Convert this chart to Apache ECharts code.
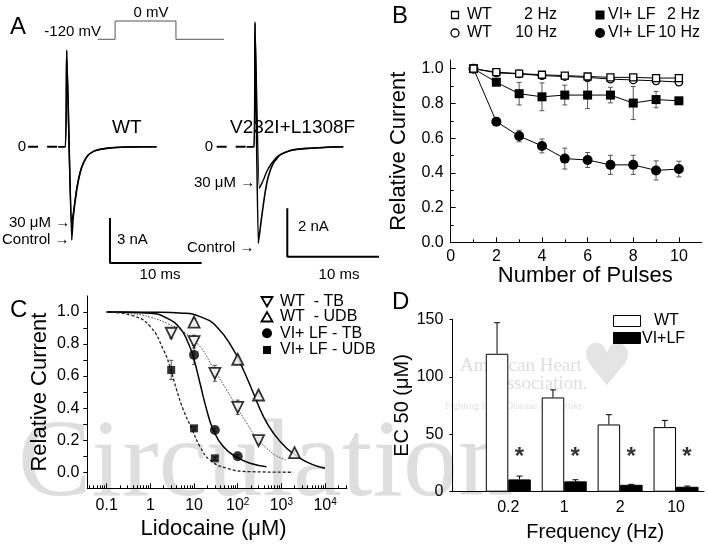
<!DOCTYPE html>
<html><head><meta charset="utf-8">
<script src="https://cdn.jsdelivr.net/npm/echarts@6/dist/echarts.min.js"></script>
<style>html,body{margin:0;padding:0;background:#fff}#c{width:708px;height:549px}</style>
</head><body><div id="c"></div>
<script>
const FONT = "'Liberation Sans', Arial, Helvetica, sans-serif";
const SERIF = "'Liberation Serif', 'Times New Roman', serif";
const zip = (a, b) => a.map((v, k) => [v, b[k]]);
const L10 = Math.log10;

// ---------------- Panel A (ms, nA / mV) ----------------
const protoTime = [0, 1.9, 1.9, 8.55, 8.55, 13.8];
const protoVolt = [-120, -120, 0, 0, -120, -120];
const wtCtrlTime = [-0.92, -0.15, 0, 0.55, 0.72, 1.09, 1.45, 1.81, 2.36, 3.09, 4.36, 6.54, 9.81];
const wtCtrlCur  = [0, 0, 6.45, -6.22, -4.67, -2.89, -1.78, -1.11, -0.55, -0.27, -0.11, -0.02, 0];
const wt30Time = [-0.92, -0.15, 0, 0.51, 0.72, 1.09, 1.45, 1.81, 2.36, 3.09, 4.36, 6.54, 9.81];
const wt30Cur  = [0, 0, 6.3, -5.09, -4.45, -2.8, -1.74, -1.09, -0.54, -0.26, -0.1, -0.02, 0];
const mutCtrlTime = [-0.9, -0.1, 0, 0.36, 0.73, 1.09, 1.45, 2.0, 2.73, 3.82, 5.63, 8.54, 9.63];
const mutCtrlCur  = [0, 0, 5.14, -3.98, -2.88, -1.92, -1.23, -0.68, -0.34, -0.16, -0.07, -0.01, 0];
const mut30Time = [-0.9, -0.1, 0, 0.47, 0.91, 1.27, 1.82, 2.54, 3.45, 4.91, 8.54, 9.63];
const mut30Cur  = [0, 0, 5.05, -1.71, -1.37, -1.03, -0.68, -0.38, -0.21, -0.09, -0.01, 0];
const scaleBarWT = { ms: 10, nA: 3 };
const scaleBarMut = { ms: 10, nA: 2 };
const wtBarAnchor = [4.72, -7.75];
const mutBarAnchor = [3.52, -4.53];
const wtZeroDash = [-4.21, -0.95];
const mutZeroDash = [-4.18, -0.9];

// ---------------- Panel B ----------------
const pulses = [1, 2, 3, 4, 5, 6, 7, 8, 9, 10];
const bWt2Hz  = [1.0, 0.98, 0.972, 0.965, 0.96, 0.955, 0.95, 0.95, 0.946, 0.946];
const bWt10Hz = [1.0, 0.976, 0.97, 0.96, 0.955, 0.95, 0.94, 0.935, 0.93, 0.923];
const bVl2Hz  = [1.0, 0.922, 0.856, 0.838, 0.848, 0.848, 0.848, 0.802, 0.822, 0.815];
const bVl2HzErr = [0, 0.01, 0.065, 0.08, 0.057, 0.078, 0.045, 0.095, 0.047, 0.01];
const bVl10Hz = [1.0, 0.695, 0.612, 0.555, 0.482, 0.474, 0.446, 0.446, 0.414, 0.422];
const bVl10HzErr = [0, 0.022, 0.033, 0.04, 0.06, 0.043, 0.055, 0.055, 0.055, 0.045];

// ---------------- Panel C ----------------
const cWtTbConc = [3, 10, 30, 100, 300];
const cWtTbVal  = [0.867, 0.815, 0.617, 0.405, 0.197];
const cWtTbErr  = [0.03, 0.04, 0.05, 0.045, 0.02];
const cWtUdbConc = [10, 100, 300, 2000];
const cWtUdbVal  = [0.937, 0.705, 0.482, 0.122];
const cWtUdbErr  = [0.02, 0.01, 0.01, 0.01];
const cVlTbConc = [10, 30, 100];
const cVlTbVal  = [0.732, 0.264, 0.1];
const cVlTbErr  = [0.06, 0.01, 0.01];
const cVlUdbConc = [3, 10, 30];
const cVlUdbVal  = [0.638, 0.274, 0.087];
const cVlUdbErr  = [0.06, 0.01, 0.01];
const fitWtTbConc = [0.1, 0.41, 1, 2.4, 5.7, 13.7, 27.6, 56, 95, 161, 273, 457, 776, 1260];
const fitWtTbVal  = [1.0, 0.988, 0.967, 0.929, 0.877, 0.784, 0.649, 0.513, 0.409, 0.306, 0.212, 0.15, 0.102, 0.078];
const fitWtUdbConc = [0.1, 1, 5.7, 13.7, 33, 80, 135, 229, 389, 661, 1320, 2690, 5400, 10000];
const fitWtUdbVal  = [1.0, 0.998, 0.992, 0.971, 0.908, 0.763, 0.638, 0.493, 0.347, 0.243, 0.15, 0.087, 0.046, 0.025];
const fitVlTbConc = [0.1, 1, 2.4, 4.8, 7.4, 9.6, 13.7, 19.5, 27.6, 46.7, 95, 191, 457];
const fitVlTbVal  = [1.0, 0.992, 0.961, 0.898, 0.805, 0.721, 0.555, 0.389, 0.264, 0.16, 0.094, 0.056, 0.035];
const fitVlUdbConc = [0.1, 0.41, 1, 2, 2.8, 4, 5.7, 8.8, 13.7, 23, 56, 190, 1860];
const fitVlUdbVal  = [1.0, 0.975, 0.908, 0.763, 0.659, 0.513, 0.389, 0.274, 0.16, 0.077, 0.025, 0.004, 0.0];
const cDecades = [-1, 0, 1, 2, 3, 4];
const cDecadeLabels = ['0.1', '1', '10', '10{s|2}', '10{s|3}', '10{s|4}'];

// ---------------- Panel D ----------------
const freqLabels = ['0.2', '1', '2', '10'];
const dWt = [120, 82, 58.5, 56.2];
const dWtErr = [27, 6.6, 8.5, 5.8];
const dVl = [10.7, 9.0, 6.0, 4.3];
const dVlErr = [2.9, 1.4, 0.4, 0.6];
const sigMarkY = 30;

// ---------- helpers ----------
function errSeries(xi, yi, xs, vals, errs, o) {
  const data = xs.map((x, k) => [x, o.topOnly ? vals[k] : vals[k] - errs[k], vals[k] + errs[k]]);
  return {
    type: 'custom', xAxisIndex: xi, yAxisIndex: yi, z: 1, silent: true, data,
    encode: { x: 0, y: [1, 2] },
    renderItem(params, api) {
      const x = api.value(0), lo = api.value(1), hi = api.value(2);
      const p1 = api.coord([x, hi]), p2 = api.coord([x, lo]);
      const dx = o.dx || 0, w = o.cap;
      const st = { stroke: o.color || '#333', lineWidth: o.lw || 1 };
      const ch = [
        { type: 'line', shape: { x1: p1[0] + dx, y1: p1[1], x2: p2[0] + dx, y2: p2[1] }, style: st },
        { type: 'line', shape: { x1: p1[0] + dx - w, y1: p1[1], x2: p1[0] + dx + w, y2: p1[1] }, style: st }
      ];
      if (!o.topOnly) ch.push({ type: 'line', shape: { x1: p2[0] + dx - w, y1: p2[1], x2: p2[0] + dx + w, y2: p2[1] }, style: st });
      return { type: 'group', children: ch };
    }
  };
}
const blk = { color: '#000' };
const lbl = (extra) => Object.assign({ fontSize: 16, color: '#000', fontFamily: FONT }, extra || {});
const nameStyle = (size, extra) => Object.assign({ fontSize: size, color: '#000', fontFamily: FONT }, extra || {});
const hiddenAxis = (g, min, max) => ({ gridIndex: g, type: 'value', min, max, show: false });

// minor tick positions for log axis
const cMinor = [];
for (let d = -2; d <= 4; d++) for (let k = 2; k <= 9; k++) {
  const v = d + L10(k);
  if (v > -1.444 && v < 4.5) cMinor.push(v);
}

const option = {
  animation: false,
  backgroundColor: '#fff',
  textStyle: { fontFamily: FONT },
  grid: [
    { left: 97.7, top: 21, width: 126.3, height: 18.3 },      // A protocol
    { left: 0, top: 0, width: 220, height: 280 },            // A WT
    { left: 180, top: 0, width: 220, height: 280 },          // A mutant
    { left: 450.7, top: 60, width: 251, height: 182.3 },     // B
    { left: 87.3, top: 295.9, width: 259.6, height: 192.4 }, // C
    { left: 452.4, top: 319.3, width: 251.6, height: 172.4 } // D
  ],
  xAxis: [
    hiddenAxis(0, 0, 13.8),
    hiddenAxis(1, -7.274, 16.72),
    hiddenAxis(2, -8.179, 15.81),
    { gridIndex: 3, type: 'value', min: 0, max: 11, position: 'bottom',
      axisLine: { onZero: false, lineStyle: blk },
      axisTick: { inside: true, length: 5, customValues: [0, 2, 4, 6, 8, 10], lineStyle: blk },
      axisLabel: lbl({ customValues: [0, 2, 4, 6, 8, 10], margin: 6 }),
      splitLine: { show: false },
      name: 'Number of Pulses', nameLocation: 'middle', nameGap: 20,
      nameTextStyle: nameStyle(22, { padding: [0, 0, 0, 18] }) },
    { gridIndex: 3, type: 'value', min: 0, max: 11, position: 'bottom',
      axisLine: { show: false, onZero: false }, axisLabel: { show: false }, splitLine: { show: false },
      axisTick: { inside: true, length: 3, customValues: [1, 3, 5, 7, 9], lineStyle: blk } },
    { gridIndex: 4, type: 'value', min: -1.444, max: 4.5, position: 'bottom',
      axisLine: { onZero: false, lineStyle: blk },
      axisTick: { inside: true, length: 5, customValues: cDecades, lineStyle: blk },
      axisLabel: lbl({ customValues: cDecades, margin: 9,
        formatter: (v) => cDecadeLabels[cDecades.indexOf(Math.round(v))],
        rich: { s: { fontSize: 10, verticalAlign: 'top', fontFamily: FONT, color: '#000' } } }),
      splitLine: { show: false },
      name: 'Lidocaine (μM)', nameLocation: 'middle', nameGap: 30,
      nameTextStyle: nameStyle(22, { padding: [0, 7, 0, 0] }) },
    { gridIndex: 4, type: 'value', min: -1.444, max: 4.5, position: 'bottom',
      axisLine: { show: false, onZero: false }, axisLabel: { show: false }, splitLine: { show: false },
      axisTick: { inside: true, length: 3, customValues: cMinor, lineStyle: blk } },
    { gridIndex: 5, type: 'value', min: -1, max: 3.5, position: 'bottom',
      axisLine: { onZero: false, lineStyle: blk },
      axisTick: { show: false },
      axisLabel: lbl({ customValues: [0, 1, 2, 3], margin: 8, formatter: (v) => freqLabels[Math.round(v)] }),
      splitLine: { show: false },
      name: 'Frequency (Hz)', nameLocation: 'middle', nameGap: 31,
      nameTextStyle: nameStyle(20, { padding: [0, 0, 0, 34] }) }
  ],
  yAxis: [
    hiddenAxis(0, -120, 0),
    hiddenAxis(1, -8.887, 9.78),
    hiddenAxis(2, -5.486, 6.037),
    { gridIndex: 3, type: 'value', min: 0, max: 1.05, position: 'left',
      axisLine: { show: true, onZero: false, lineStyle: blk },
      axisTick: { show: true, inside: true, length: 5, customValues: [0, 0.2, 0.4, 0.6, 0.8, 1.0], lineStyle: blk },
      axisLabel: lbl({ customValues: [0, 0.2, 0.4, 0.6, 0.8, 1.0], margin: 7, formatter: (v) => v.toFixed(1) }),
      splitLine: { show: false },
      name: 'Relative Current', nameLocation: 'middle', nameGap: 41, nameTextStyle: nameStyle(22) },
    { gridIndex: 3, type: 'value', min: 0, max: 1.05, position: 'left',
      axisLine: { show: false, onZero: false }, axisLabel: { show: false }, splitLine: { show: false },
      axisTick: { show: true, inside: true, length: 3, customValues: [0.1, 0.3, 0.5, 0.7, 0.9], lineStyle: blk } },
    { gridIndex: 4, type: 'value', min: -0.1, max: 1.1, position: 'left',
      axisLine: { show: true, onZero: false, lineStyle: blk },
      axisTick: { show: true, length: 4, customValues: [0, 0.1, 0.2, 0.3, 0.4, 0.5, 0.6, 0.7, 0.8, 0.9, 1.0], lineStyle: blk },
      axisLabel: lbl({ customValues: [0, 0.2, 0.4, 0.6, 0.8, 1.0], margin: 8, formatter: (v) => v.toFixed(1) }),
      splitLine: { show: false },
      name: 'Relative Current', nameLocation: 'middle', nameGap: 36, nameTextStyle: nameStyle(22) },
    { gridIndex: 5, type: 'value', min: 0, max: 150, interval: 50, position: 'left',
      axisLine: { show: true, onZero: false, lineStyle: blk },
      axisTick: { show: true, length: 3, lineStyle: blk },
      axisLabel: lbl({ margin: 9 }),
      splitLine: { show: false },
      name: 'EC 50 (μM)', nameLocation: 'middle', nameGap: 27, nameTextStyle: nameStyle(20) }
  ],
  series: [
    // ----- A -----
    { type: 'line', xAxisIndex: 0, yAxisIndex: 0, data: zip(protoTime, protoVolt), symbol: 'none', clip: false,
      lineStyle: { color: '#555', width: 1 } },
    { type: 'line', xAxisIndex: 1, yAxisIndex: 1, data: zip(wtCtrlTime, wtCtrlCur), symbol: 'none', clip: false,
      smooth: 0.15, lineStyle: { color: '#000', width: 1.6 } },
    { type: 'line', xAxisIndex: 1, yAxisIndex: 1, data: zip(wt30Time, wt30Cur), symbol: 'none', clip: false,
      smooth: 0.15, lineStyle: { color: '#000', width: 1.4 } },
    { type: 'line', xAxisIndex: 1, yAxisIndex: 1, data: [[wtZeroDash[0], 0], [wtZeroDash[1], 0]], symbol: 'none', clip: false,
      lineStyle: { color: '#000', width: 2, type: [10, 9] } },
    { type: 'line', xAxisIndex: 1, yAxisIndex: 1, symbol: 'none', clip: false, lineStyle: { color: '#000', width: 2 },
      data: [[wtBarAnchor[0], wtBarAnchor[1] + scaleBarWT.nA], wtBarAnchor, [wtBarAnchor[0] + scaleBarWT.ms, wtBarAnchor[1]]] },
    { type: 'line', xAxisIndex: 2, yAxisIndex: 2, data: zip(mutCtrlTime, mutCtrlCur), symbol: 'none', clip: false,
      smooth: 0.15, lineStyle: { color: '#000', width: 1.6 } },
    { type: 'line', xAxisIndex: 2, yAxisIndex: 2, data: zip(mut30Time, mut30Cur), symbol: 'none', clip: false,
      smooth: 0.15, lineStyle: { color: '#000', width: 1.4 } },
    { type: 'line', xAxisIndex: 2, yAxisIndex: 2, data: [[mutZeroDash[0], 0], [mutZeroDash[1], 0]], symbol: 'none', clip: false,
      lineStyle: { color: '#000', width: 2, type: [10, 9] } },
    { type: 'line', xAxisIndex: 2, yAxisIndex: 2, symbol: 'none', clip: false, lineStyle: { color: '#000', width: 2 },
      data: [[mutBarAnchor[0], mutBarAnchor[1] + scaleBarMut.nA], mutBarAnchor, [mutBarAnchor[0] + scaleBarMut.ms, mutBarAnchor[1]]] },
    // ----- B -----
    errSeries(3, 3, pulses, bVl2Hz, bVl2HzErr, { cap: 2.5, color: '#555' }),
    errSeries(3, 3, pulses, bVl10Hz, bVl10HzErr, { cap: 2.5, color: '#555' }),
    { type: 'line', xAxisIndex: 3, yAxisIndex: 3, data: zip(pulses, bVl10Hz), symbol: 'circle', symbolSize: 10,
      itemStyle: { color: '#000' }, lineStyle: { color: '#000', width: 1 } },
    { type: 'line', xAxisIndex: 3, yAxisIndex: 3, data: zip(pulses, bVl2Hz), symbol: 'rect', symbolSize: 9,
      itemStyle: { color: '#000' }, lineStyle: { color: '#000', width: 1 } },
    { type: 'line', xAxisIndex: 3, yAxisIndex: 3, data: zip(pulses, bWt10Hz), symbol: 'circle', symbolSize: 7.5,
      itemStyle: { color: '#fff', borderColor: '#000', borderWidth: 1.3 }, lineStyle: { color: '#000', width: 1 } },
    { type: 'line', xAxisIndex: 3, yAxisIndex: 3, data: zip(pulses, bWt2Hz), symbol: 'rect', symbolSize: 7,
      itemStyle: { color: '#fff', borderColor: '#000', borderWidth: 1.3 }, lineStyle: { color: '#000', width: 1 } },
    // ----- C -----
    { type: 'line', xAxisIndex: 5, yAxisIndex: 5, data: zip(fitWtUdbConc.map(L10), fitWtUdbVal), symbol: 'none',
      smooth: true, lineStyle: { color: '#000', width: 1.5 } },
    { type: 'line', xAxisIndex: 5, yAxisIndex: 5, data: zip(fitWtTbConc.map(L10), fitWtTbVal), symbol: 'none',
      smooth: true, lineStyle: { color: '#444', width: 1, type: [1.5, 1.5] } },
    { type: 'line', xAxisIndex: 5, yAxisIndex: 5, data: zip(fitVlTbConc.map(L10), fitVlTbVal), symbol: 'none',
      smooth: true, lineStyle: { color: '#000', width: 1.5 } },
    { type: 'line', xAxisIndex: 5, yAxisIndex: 5, data: zip(fitVlUdbConc.map(L10), fitVlUdbVal), symbol: 'none',
      smooth: true, lineStyle: { color: '#222', width: 1.3, type: [3, 2] } },
    errSeries(5, 5, cWtTbConc.map(L10), cWtTbVal, cWtTbErr, { cap: 2, color: '#555' }),
    errSeries(5, 5, cWtUdbConc.map(L10), cWtUdbVal, cWtUdbErr, { cap: 2, color: '#555' }),
    errSeries(5, 5, cVlTbConc.map(L10), cVlTbVal, cVlTbErr, { cap: 2, color: '#555' }),
    errSeries(5, 5, cVlUdbConc.map(L10), cVlUdbVal, cVlUdbErr, { cap: 2, color: '#555' }),
    { type: 'scatter', xAxisIndex: 5, yAxisIndex: 5, data: zip(cWtTbConc.map(L10), cWtTbVal), symbol: 'triangle',
      symbolRotate: 180, symbolSize: 11, itemStyle: { color: '#fff', borderColor: '#000', borderWidth: 1.8 }, z: 3 },
    { type: 'scatter', xAxisIndex: 5, yAxisIndex: 5, data: zip(cWtUdbConc.map(L10), cWtUdbVal), symbol: 'triangle',
      symbolSize: 11, itemStyle: { color: '#fff', borderColor: '#000', borderWidth: 1.8 }, z: 3 },
    { type: 'scatter', xAxisIndex: 5, yAxisIndex: 5, data: zip(cVlTbConc.map(L10), cVlTbVal), symbol: 'circle',
      symbolSize: 10, itemStyle: { color: '#000' }, z: 3 },
    { type: 'scatter', xAxisIndex: 5, yAxisIndex: 5, data: zip(cVlUdbConc.map(L10), cVlUdbVal), symbol: 'rect',
      symbolSize: 8, itemStyle: { color: '#000' }, z: 3 },
    // ----- D -----
    { type: 'bar', xAxisIndex: 7, yAxisIndex: 6, data: dWt.map((v, k) => [k, v]), barWidth: 22.5, barGap: '0%',
      itemStyle: { color: '#fff', borderColor: '#000', borderWidth: 1 } },
    { type: 'bar', xAxisIndex: 7, yAxisIndex: 6, data: dVl.map((v, k) => [k, v]), barWidth: 22.5, barGap: '0%',
      itemStyle: { color: '#000', borderColor: '#000', borderWidth: 1 } },
    errSeries(7, 6, [0, 1, 2, 3], dWt, dWtErr, { cap: 3, color: '#000', dx: -11.25, topOnly: true }),
    errSeries(7, 6, [0, 1, 2, 3], dVl, dVlErr, { cap: 3, color: '#000', dx: 11.25, topOnly: true }),
    { type: 'scatter', xAxisIndex: 7, yAxisIndex: 6, data: dVl.map((v, k) => [k, sigMarkY]), symbolSize: 0,
      label: { show: true, position: 'inside', formatter: '*', offset: [11, 0], fontSize: 24, fontWeight: 'bold', color: '#000', fontFamily: FONT } }
  ],
  graphic: []
};

// ---------- text & legend graphics ----------
const G = option.graphic;
const T = (text, x, y, size, align, extra) => G.push({ type: 'text', x, y, z: 100, silent: true,
  style: Object.assign({ text, fontSize: size, fontFamily: FONT, fill: '#000', align: align || 'left', textAlign: align || 'left',
    verticalAlign: 'middle', textVerticalAlign: 'middle' }, extra || {}) });

// watermarks (behind)
G.push({ type: 'text', x: 18, y: 466, z: -5, silent: true, style: { text: 'Circulation', fontSize: 110, fontFamily: SERIF, fill: '#dedede', verticalAlign: 'middle', textVerticalAlign: 'middle' } });
G.push({ type: 'text', x: 460, y: 366, z: -5, silent: true, style: { text: 'American Heart', fontSize: 19, fontFamily: SERIF, fill: '#dddddd', verticalAlign: 'middle', textVerticalAlign: 'middle' } });
G.push({ type: 'text', x: 493, y: 384, z: -5, silent: true, style: { text: 'Association.', fontSize: 19, fontFamily: SERIF, fill: '#dddddd', verticalAlign: 'middle', textVerticalAlign: 'middle' } });
G.push({ type: 'text', x: 445, y: 406, z: -5, silent: true, style: { text: 'Fighting Heart Disease and Stroke', fontSize: 10, fontFamily: SERIF, fill: '#e2e2e2', verticalAlign: 'middle', textVerticalAlign: 'middle' } });
G.push({ type: 'text', x: 607, y: 370, z: -5, silent: true, style: { text: '♥', fontSize: 58, fontFamily: "'DejaVu Sans', sans-serif", fill: '#e4e4e4', align: 'center', textAlign: 'center', verticalAlign: 'middle', textVerticalAlign: 'middle' } });

// panel letters
T('A', 10, 27, 24); T('B', 392, 16, 24); T('C', 10, 310, 24); T('D', 392, 302, 24);

// panel A annotations
T('-120 mV', 101, 32, 15, 'right');
T('0 mV', 151, 13, 15, 'center');
T('WT', 112, 128, 19);
T('0', 22, 147, 15, 'center');
T('30 μM →', 9, 223, 15);
T('Control →', 2, 240, 15);
T('3 nA', 117, 240, 15);
T('10 ms', 160, 275, 15, 'center');
T('V232I+L1308F', 230, 128, 19);
T('0', 209, 147, 15, 'center');
T('30 μM →', 194, 183, 15);
T('Control →', 187, 248, 15);
T('2 nA', 298, 227, 15);
T('10 ms', 339, 275, 15, 'center');

// panel B legend
G.push({ type: 'rect', z: 100, shape: { x: 451.5, y: 11.5, width: 7, height: 7 }, style: { fill: '#fff', stroke: '#000', lineWidth: 1.3 } });
G.push({ type: 'circle', z: 100, shape: { cx: 455, cy: 33, r: 4 }, style: { fill: '#fff', stroke: '#000', lineWidth: 1.3 } });
G.push({ type: 'rect', z: 100, shape: { x: 595.5, y: 10.5, width: 9, height: 9 }, style: { fill: '#000' } });
G.push({ type: 'circle', z: 100, shape: { cx: 600, cy: 33, r: 5 }, style: { fill: '#000' } });
T('WT', 467, 15, 16); T('2 Hz', 557, 15, 16, 'right');
T('WT', 467, 33, 16); T('10 Hz', 557, 33, 16, 'right');
T('VI+ LF', 608, 15, 16); T('2 Hz', 700, 15, 16, 'right');
T('VI+ LF', 608, 33, 16); T('10 Hz', 700, 33, 16, 'right');

// panel C legend
const lx = 267;
G.push({ type: 'polygon', z: 100, shape: { points: [[lx - 5.5, 297], [lx + 5.5, 297], [lx, 306.5]] }, style: { fill: '#fff', stroke: '#000', lineWidth: 1.8 } });
G.push({ type: 'polygon', z: 100, shape: { points: [[lx - 5.5, 321.5], [lx + 5.5, 321.5], [lx, 312]] }, style: { fill: '#fff', stroke: '#000', lineWidth: 1.8 } });
G.push({ type: 'circle', z: 100, shape: { cx: lx, cy: 333.3, r: 5 }, style: { fill: '#000' } });
G.push({ type: 'rect', z: 100, shape: { x: lx - 4, y: 346, width: 8, height: 8 }, style: { fill: '#000' } });
T('WT  - TB', 280, 301.7, 16);
T('WT  - UDB', 280, 316.7, 16);
T('VI+ LF - TB', 280, 333.3, 16);
T('VI+ LF - UDB', 280, 350, 16);

// panel D legend
G.push({ type: 'rect', z: 100, shape: { x: 613.5, y: 315.5, width: 27, height: 11 }, style: { fill: '#fff', stroke: '#000', lineWidth: 1 } });
G.push({ type: 'rect', z: 100, shape: { x: 613.5, y: 332.5, width: 27, height: 11 }, style: { fill: '#000', stroke: '#000', lineWidth: 1 } });
T('WT', 654, 321, 16);
T('VI+LF', 642, 338.5, 16);

const chart = echarts.init(document.getElementById('c'), null, { renderer: 'canvas' });
chart.setOption(option);
</script></body></html>
